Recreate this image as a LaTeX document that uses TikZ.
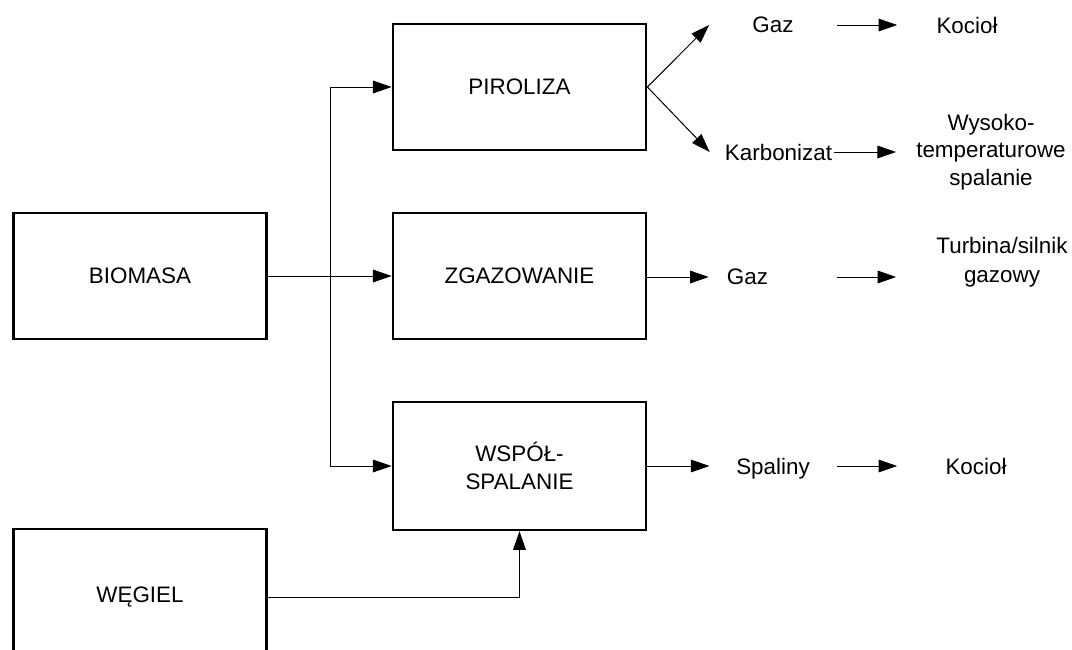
\documentclass[tikz,border=0pt]{standalone}
\usepackage{fontspec}
\setmainfont{Liberation Sans}
\usetikzlibrary{arrows.meta}
\tikzset{
  box/.style={draw, line width=1.8pt, rectangle, minimum width=190pt, minimum height=94.5pt, inner sep=0pt, align=center},
  lbl/.style={inner sep=0pt, align=center},
  conn/.style={line width=0.75pt},
  arr/.style={line width=0.75pt, -{Triangle[length=14pt,width=9.5pt]}},
}
\begin{document}
\begin{tikzpicture}[x=0.75pt, y=-0.75pt, font=\fontsize{16.8}{20.5}\selectfont]
\useasboundingbox (0,0) rectangle (1072,650);
% boxes
\node[box] (pir) at (519.5,87) {PIROLIZA};
\node[box] (zga) at (519.5,276) {ZGAZOWANIE};
\node[box, minimum height=96pt] (wsp) at (519.5,466) {WSPÓŁ-\\SPALANIE};
\node[box] (bio) at (140,276) {BIOMASA};
\node[box, minimum height=102pt] (weg) at (140,597) {WĘGIEL};
% labels
\node[lbl, inner xsep=32.25pt] (gaz1) at (773,25) {Gaz};
\node[lbl, inner xsep=29.25pt] (koc1) at (967,25) {Kocioł};
\node[lbl] (karb) at (778.5,152) {Karbonizat};
\node[lbl, inner xsep=15pt] (wys) at (991,152) {Wysoko-\\temperaturowe\\spalanie};
\node[lbl] (gaz2) at (747.5,277) {Gaz};
\node[lbl, inner xsep=30pt, font=\fontsize{16.8}{22}\selectfont] (turb) at (1002,262) {Turbina/silnik\\gazowy};
\node[lbl, inner xsep=19.9pt, text height=12pt, text depth=0pt] (spal) at (773,466) {Spaliny};
\node[lbl, inner xsep=36pt] (koc2) at (976,466) {Kocioł};
% junction
\coordinate (jt) at (330,87);
\coordinate (jb) at (330,466);
\draw[conn] (jt) -- (jb);
\draw[arr] (jt) -- (pir.west);
\draw[arr] (jb) -- (wsp.west);
\draw[arr] (bio.east) -- (zga.west);
\draw[arr] (weg.east) -| (wsp.south);
% pyrolysis fan
\draw[arr] (pir.east) -- (gaz1.west);
\draw[arr] (pir.east) -- ([xshift=-11.25pt]karb.west);
\draw[arr] (gaz1.east) -- (koc1.west);
\draw[arr] ([xshift=1pt]karb.east) -- (wys.west |- karb.east);
% gasification
\draw[arr] (zga.east |- gaz2.west) -- ([xshift=-13.5pt]gaz2.west);
\draw[arr] ([xshift=51.75pt]gaz2.east) -- (turb.west |- gaz2.east);
% co-combustion
\draw[arr] (wsp.east) -- (spal.west);
\draw[arr] (spal.east) -- (koc2.west);
\end{tikzpicture}
\end{document}
